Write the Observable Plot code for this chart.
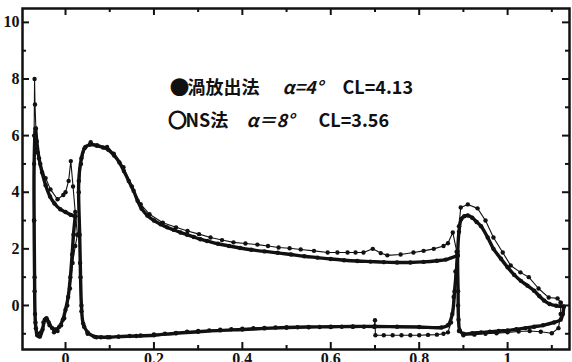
<!DOCTYPE html>
<html>
<head>
<meta charset="utf-8">
<script src="https://cdn.jsdelivr.net/npm/d3@7"></script>
<script src="https://cdn.jsdelivr.net/npm/@observablehq/plot@0.6"></script>
<style>
  body { margin: 0; background: #fff; }
</style>
</head>
<body>
<div id="chart"></div>
<script>
// Pressure distribution (-Cp vs x/c) on a three-element section: slat, main wing, flap.
// Each element is traced as one contour: upper surface, leading edge, lower surface.

// 渦放出法 (vortex method), α=4°
const vortexSlat = [
  [0.022, 3.15], [0.012, 3.2], [0.0, 3.3], [-0.012, 3.4], [-0.025, 3.6], [-0.035, 3.85],
  [-0.045, 4.25], [-0.053, 4.7], [-0.06, 5.2], [-0.065, 5.8], [-0.068, 6.25],
  [-0.071, 5.0], [-0.071, 3.0], [-0.070, 1.0], [-0.069, -0.3], [-0.067, -0.8], [-0.064, -1.05],
  [-0.058, -1.1], [-0.052, -0.85], [-0.047, -0.5], [-0.043, -0.45], [-0.038, -0.6], [-0.03, -0.8],
  [-0.022, -0.85], [-0.014, -0.75], [-0.006, -0.5], [0.0, -0.15], [0.006, 0.3], [0.011, 1.0],
  [0.015, 1.8], [0.018, 2.5], [0.022, 3.15]
];
const vortexMain = [
  [0.887, 1.77], [0.86, 1.62], [0.84, 1.58], [0.81, 1.54], [0.78, 1.52], [0.75, 1.52], [0.72, 1.53],
  [0.69, 1.55], [0.66, 1.57], [0.63, 1.6], [0.6, 1.64], [0.57, 1.69], [0.54, 1.74], [0.51, 1.8],
  [0.48, 1.86], [0.45, 1.91], [0.42, 1.97], [0.395, 2.03], [0.37, 2.1], [0.345, 2.18], [0.32, 2.28],
  [0.305, 2.34], [0.29, 2.42], [0.275, 2.5], [0.26, 2.58], [0.245, 2.67], [0.23, 2.76], [0.215, 2.87],
  [0.2, 3.0], [0.185, 3.18], [0.172, 3.42], [0.163, 3.7], [0.154, 4.05], [0.143, 4.4], [0.132, 4.75],
  [0.122, 5.05], [0.11, 5.3], [0.097, 5.5], [0.085, 5.58], [0.07, 5.65], [0.055, 5.68], [0.043, 5.55],
  [0.036, 5.2], [0.03, 4.4], [0.032, 2.5], [0.034, 1.0], [0.036, 0.0], [0.04, -0.64], [0.05, -0.95],
  [0.065, -1.1], [0.08, -1.12], [0.1, -1.12], [0.12, -1.1], [0.16, -1.08], [0.2, -1.05], [0.25, -0.98],
  [0.3, -0.93], [0.35, -0.88], [0.4, -0.85], [0.45, -0.81], [0.5, -0.78], [0.55, -0.76], [0.6, -0.75],
  [0.65, -0.74], [0.7, -0.74], [0.75, -0.75], [0.8, -0.76], [0.85, -0.78], [0.865, -0.7], [0.875, -0.3],
  [0.88, 0.5], [0.884, 1.2], [0.887, 1.77]
];
const vortexFlap = [
  [1.127, -0.04], [1.11, -0.01], [1.095, 0.05], [1.083, 0.17], [1.072, 0.33], [1.06, 0.52],
  [1.045, 0.7], [1.03, 0.87], [1.015, 1.08], [1.0, 1.35], [0.985, 1.65], [0.968, 2.0], [0.955, 2.4],
  [0.94, 2.8], [0.93, 2.95], [0.92, 3.1], [0.91, 3.18], [0.902, 3.15], [0.895, 3.05], [0.89, 2.6],
  [0.887, 1.77], [0.888, 0.5], [0.889, -0.5], [0.892, -0.88], [0.9, -1.0], [0.92, -0.98],
  [0.94, -0.95], [0.96, -0.93], [0.98, -0.9], [1.0, -0.88], [1.02, -0.84], [1.04, -0.8],
  [1.06, -0.75], [1.08, -0.7], [1.105, -0.6], [1.12, -0.5], [1.125, -0.3], [1.127, -0.04]
];

// NS法 (Navier-Stokes), α=8°
const nsSlat = [
  [0.027, 2.5], [0.022, 3.3], [0.017, 4.2], [0.012, 5.1], [0.007, 4.4], [0.0, 4.0], [-0.005, 3.9],
  [-0.018, 3.75], [-0.034, 4.1], [-0.045, 4.5], [-0.057, 5.0], [-0.063, 5.4], [-0.067, 6.25],
  [-0.069, 7.1], [-0.07, 8.0], [-0.071, 6.0], [-0.071, 3.0], [-0.07, 0.5], [-0.068, -0.6],
  [-0.063, -1.0], [-0.056, -0.95], [-0.05, -0.6], [-0.044, -0.5], [-0.036, -0.7], [-0.026, -0.95],
  [-0.018, -0.9], [-0.01, -0.7], [-0.003, -0.45], [0.004, 0.0], [0.01, 0.6], [0.016, 1.5],
  [0.022, 2.1], [0.027, 2.5]
];
const nsMain = [
  [0.885, 1.9], [0.876, 2.58], [0.865, 2.2], [0.855, 2.1], [0.833, 2.0], [0.81, 1.93], [0.787, 1.87],
  [0.758, 1.8], [0.728, 1.77], [0.713, 1.85], [0.695, 2.0], [0.674, 1.87], [0.656, 1.87], [0.638, 1.87],
  [0.615, 1.87], [0.593, 1.87], [0.562, 1.93], [0.532, 1.98], [0.507, 2.02], [0.482, 2.05],
  [0.458, 2.1], [0.434, 2.15], [0.407, 2.19], [0.38, 2.23], [0.354, 2.31], [0.328, 2.4], [0.302, 2.52],
  [0.276, 2.63], [0.25, 2.76], [0.22, 2.92], [0.19, 3.22], [0.17, 3.58], [0.15, 4.2], [0.131, 4.88],
  [0.109, 5.36], [0.094, 5.6], [0.072, 5.65], [0.057, 5.77], [0.045, 5.6], [0.035, 5.0], [0.03, 4.0],
  [0.033, 1.5], [0.036, -0.2], [0.042, -0.75], [0.05, -1.0], [0.07, -1.12], [0.095, -1.12],
  [0.12, -1.1], [0.145, -1.08], [0.17, -1.06], [0.2, -1.02], [0.225, -1.0], [0.25, -0.97],
  [0.275, -0.93], [0.3, -0.9], [0.325, -0.88], [0.35, -0.86], [0.375, -0.84], [0.4, -0.82],
  [0.425, -0.8], [0.45, -0.79], [0.475, -0.78], [0.5, -0.78], [0.525, -0.77], [0.55, -0.77],
  [0.575, -0.76], [0.6, -0.76], [0.625, -0.75], [0.65, -0.75], [0.675, -0.75], [0.698, -0.75],
  [0.7, -0.52], [0.701, -1.05], [0.72, -1.05], [0.74, -1.05], [0.76, -1.05], [0.78, -1.05],
  [0.8, -1.05], [0.82, -1.04], [0.84, -1.03], [0.855, -1.0], [0.865, -0.95], [0.872, -0.6],
  [0.878, 0.3], [0.882, 1.2], [0.885, 1.9]
];
const nsFlap = [
  [1.12, 0.1], [1.113, 0.25], [1.093, 0.28], [1.07, 0.6], [1.048, 1.0], [1.029, 1.17], [1.007, 1.41],
  [0.989, 1.87], [0.968, 2.4], [0.95, 3.0], [0.932, 3.43], [0.91, 3.57], [0.894, 3.46], [0.89, 2.8],
  [0.887, 1.9], [0.888, 0.0], [0.89, -0.9], [0.9, -1.05], [0.925, -1.03], [0.95, -1.0], [0.975, -0.98],
  [1.0, -0.95], [1.025, -0.92], [1.05, -0.9], [1.075, -0.93], [1.1, -0.98], [1.115, -0.8],
  [1.12, -0.3], [1.12, 0.1]
];

// Axis ticks and labels
const xMajor = [0, 0.2, 0.4, 0.6, 0.8, 1];
const xMinor = [0.1, 0.3, 0.5, 0.7, 0.9, 1.1];
const yMajor = [0, 2, 4, 6, 8, 10];
const yMinor = [-1, 1, 3, 5, 7, 9];

// Legend rows: marker, method, angle of attack, lift coefficient
const legendRows = [
  ["●", "渦放出法", "α=4°", "CL=4.13"],
  ["○", "NS法", "α＝8°", "CL=3.56"]
];

const W = 572, H = 362;
const margin = {top: 8, right: 3, bottom: 13, left: 22};
const innerW = W - margin.left - margin.right;
const innerH = H - margin.top - margin.bottom;

const ink = "#111";

// Inward ticks on the left and right edges of the frame
function frameTicksY(values, len) {
  return [
    Plot.ruleY(values, {stroke: ink, strokeWidth: 2, insetRight: innerW - len}),
    Plot.ruleY(values, {stroke: ink, strokeWidth: 2, insetLeft: innerW - len}),
  ];
}
// Inward ticks on the top and bottom edges of the frame
function frameTicksX(values, len) {
  return [
    Plot.ruleX(values, {stroke: ink, strokeWidth: 2, insetTop: innerH - len}),
    Plot.ruleX(values, {stroke: ink, strokeWidth: 2, insetBottom: innerH - len}),
  ];
}

// Legend layout in pixels from the frame's top-left corner
const legendFont = "'Noto Sans CJK JP', 'Liberation Sans', sans-serif";
const legendX = [[148, 165, 260, 320], [146, 163, 224, 296]];
const legendY = [80, 113];
const legendMarks = legendRows.flatMap((row, i) =>
  row.map((label, j) =>
    Plot.text([label], {
      frameAnchor: "top-left",
      text: d => d,
      dx: legendX[i][j],
      dy: legendY[i],
      textAnchor: "start",
      lineAnchor: "middle",
      fontFamily: legendFont,
      fontWeight: "bold",
      fontStyle: j === 2 ? "italic" : "normal",
      fontSize: 18,
      fill: ink,
      stroke: j === 0 ? ink : "none",
      strokeWidth: j === 0 ? 1.6 : 0
    })
  )
);

const chart = Plot.plot({
  width: W,
  height: H,
  marginTop: margin.top,
  marginRight: margin.right,
  marginBottom: margin.bottom,
  marginLeft: margin.left,
  x: {domain: [-0.0973, 1.140]},
  y: {domain: [-1.555, 10.49]},
  style: {
    fontFamily: "'Liberation Serif', 'DejaVu Serif', serif",
    fontWeight: "bold",
    fontSize: "16px",
    color: ink,
    background: "#fff"
  },
  marks: [
    // NS method: thin line with dots
    ...[nsSlat, nsMain, nsFlap].flatMap(seg => [
      Plot.line(seg, {stroke: ink, strokeWidth: 1.1, clip: true}),
      Plot.dot(seg, {fill: ink, r: 2.2, clip: true})
    ]),
    // Vortex method: heavy beaded line
    ...[vortexSlat, vortexMain, vortexFlap].flatMap(seg => [
      Plot.line(seg, {stroke: ink, strokeWidth: 3.4, curve: "catmull-rom", clip: true}),
      Plot.dot(seg, {fill: ink, r: 2.2, clip: true})
    ]),
    ...frameTicksY(yMajor, 7),
    ...frameTicksY(yMinor, 4),
    ...frameTicksX(xMajor, 7),
    ...frameTicksX(xMinor, 4),
    Plot.axisY(yMajor, {anchor: "left", tickSize: 0, tickPadding: 3, fill: ink, tickFormat: d => String(d)}),
    Plot.axisX(xMajor, {anchor: "bottom", tickSize: 0, tickPadding: 3, fill: ink, tickFormat: d => String(d)}),
    Plot.frame({stroke: ink, strokeWidth: 2.5}),
    ...legendMarks
  ]
});

document.getElementById("chart").append(chart);
</script>
</body>
</html>
